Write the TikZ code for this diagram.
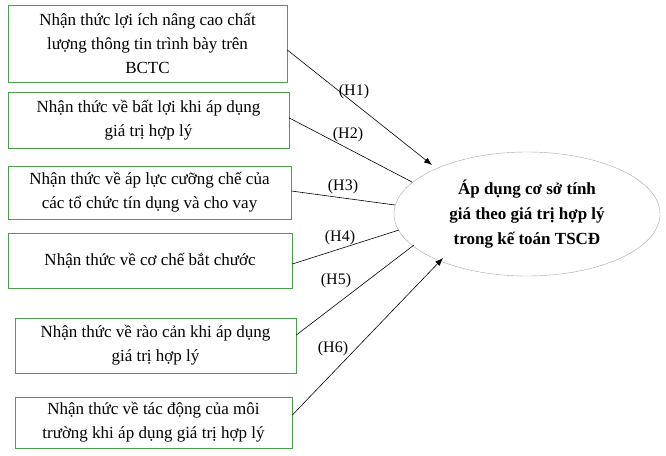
\documentclass[tikz,border=0pt]{standalone}
\usepackage{fontspec}
\setmainfont{Liberation Serif}
\usetikzlibrary{shapes.geometric,arrows.meta}
\begin{document}
\begin{tikzpicture}[x=1pt,y=-1pt,
  box/.style={draw=green!45!black!70,line width=0.7pt,align=center,font=\fontsize{17}{24}\selectfont,inner sep=0pt},
  lab/.style={font=\fontsize{16}{18}\selectfont},
  ln/.style={line width=0.6pt},
  arr/.style={ln,-{Latex[length=8pt,width=6pt]}}]
\useasboundingbox (0,0) rectangle (666,455);
\node[box,minimum width=279pt,minimum height=77pt] (b1) at (147.5,43.5) {Nhận thức lợi ích nâng cao chất\\lượng thông tin trình bày trên\\BCTC};
\node[box,minimum width=281pt,minimum height=56pt] (b2) at (148.5,120) {Nhận thức về bất lợi khi áp dụng\\giá trị hợp lý};
\node[box,minimum width=283pt,minimum height=53pt] (b3) at (149.5,192.5) {Nhận thức về áp lực cưỡng chế của\\các tổ chức tín dụng và cho vay};
\node[box,minimum width=284pt,minimum height=55pt] (b4) at (150,260.5) {Nhận thức về cơ chế bắt chước};
\node[box,minimum width=281pt,minimum height=55pt] (b5) at (155.5,345.5) {Nhận thức về rào cản khi áp dụng\\giá trị hợp lý};
\node[box,minimum width=277pt,minimum height=51pt] (b6) at (153.5,422.5) {Nhận thức về tác động của môi\\trường khi áp dụng giá trị hợp lý};
\node[draw=gray!70,ellipse,minimum width=266pt,minimum height=124pt,align=center,font=\bfseries\fontsize{17}{25}\selectfont,inner sep=0pt] (e) at (527,214) {Áp dụng cơ sở tính\\giá theo giá trị hợp lý\\trong kế toán TSCĐ};
\coordinate (t1) at (432,165);
\coordinate (t6) at (443,258);
\draw[arr] (b1.east |- 0,50) -- (t1);
\draw[ln] (b2.east |- 0,118) -- (412,182);
\draw[ln] (b3.east |- 0,191) -- (395,205);
\draw[ln] (b4.east |- 0,264) -- (399,230);
\draw[ln] (b5.east |- 0,335) -- (414,245);
\draw[arr] (b6.east |- 0,415) -- (t6);
\node[lab] (l1) at (354,92) {(H1)};
\node[lab] (l2) at (348,135) {(H2)};
\node[lab] (l3) at (343,187) {(H3)};
\node[lab] (l4) at (340,238) {(H4)};
\node[lab] (l5) at (336,281) {(H5)};
\node[lab] (l6) at (333,349) {(H6)};
\end{tikzpicture}
\end{document}
